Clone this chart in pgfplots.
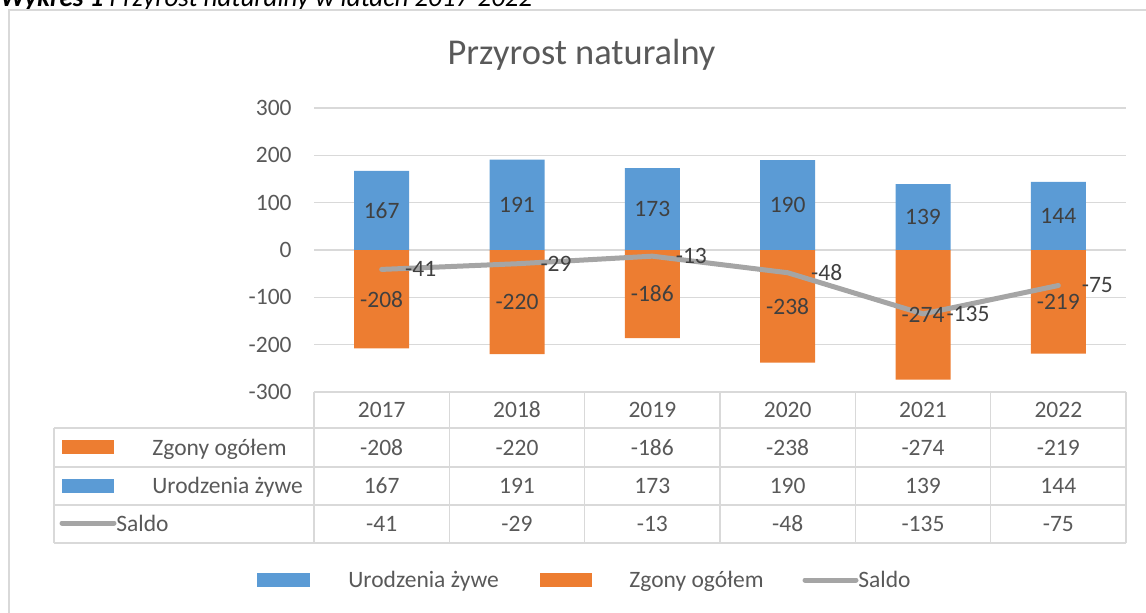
\documentclass[border=0pt]{standalone}
\usepackage{pgfplots}
\usepackage{pgfplotstable}
\pgfplotsset{compat=1.18}
\usepackage{fontspec}
\setmainfont{Carlito}
\definecolor{cblue}{HTML}{5B9BD5}
\definecolor{corange}{HTML}{ED7D31}
\definecolor{cgray}{HTML}{A5A5A5}
\definecolor{gridc}{HTML}{D9D9D9}
\definecolor{tickc}{HTML}{595959}
\definecolor{labc}{HTML}{404040}
\newcommand\sz{\fontsize{11.75}{14}\selectfont}
\pgfplotstableread{
x year u z s
0 2017 167 -208 -41
1 2018 191 -220 -29
2 2019 173 -186 -13
3 2020 190 -238 -48
4 2021 139 -274 -135
5 2022 144 -219 -75
}\data
\begin{document}
\begin{tikzpicture}
\useasboundingbox (0,0) rectangle (573pt,-306pt);
\clip (0,0) rectangle (573pt,-306pt);
\begin{scope}[x=0.5pt,y=-0.5pt]
% caption (cut at top)
\node[anchor=base west, inner sep=0pt, font=\fontsize{13.5}{16}\selectfont\itshape] at (0,6) {{\bfseries Wykres 1} Przyrost naturalny w latach 2017-2022};
% chart border
\draw[gridc, line width=0.75pt] (9,10) rectangle (1170,640);
% title
\node[anchor=base, inner sep=0pt, text=tickc, font=\fontsize{18.2}{22}\selectfont] at (581.5,64) {Przyrost naturalny};
% table grid
\foreach \k in {0,...,6} {\draw[gridc, line width=0.75pt] ({314+\k*135.333},392) -- ({314+\k*135.333},543);}
\draw[gridc, line width=0.75pt] (54,428) -- (54,543);
\foreach \yy in {428,467,505,543} {\draw[gridc, line width=0.75pt] (54,\yy) -- (1126,\yy);}
% table legend column
\fill[corange] (62,440) rectangle (114,454);
\node[anchor=base west, inner sep=0pt, text=tickc, font=\sz] at (152,455) {Zgony ogółem};
\fill[cblue] (62,479) rectangle (114,493);
\node[anchor=base west, inner sep=0pt, text=tickc, font=\sz] at (152,493.5) {Urodzenia żywe};
\draw[cgray, line width=2.5pt, line cap=round] (62,523) -- (114,523);
\node[anchor=base west, inner sep=0pt, text=tickc, font=\sz] at (116,531.5) {Saldo};
% bottom legend
\fill[cblue] (257,573) rectangle (310,587);
\node[anchor=base west, inner sep=0pt, text=tickc, font=\sz] at (348,587.5) {Urodzenia żywe};
\fill[corange] (540,573) rectangle (592,587);
\node[anchor=base west, inner sep=0pt, text=tickc, font=\sz] at (629,587.5) {Zgony ogółem};
\draw[cgray, line width=2.5pt, line cap=round] (805,580) -- (856,580);
\node[anchor=base west, inner sep=0pt, text=tickc, font=\sz] at (858,587.5) {Saldo};
\end{scope}
\begin{axis}[
  at={(157pt,-196pt)}, anchor=south west,
  width=406pt, height=142pt, scale only axis,
  xmin=-0.5, xmax=5.5, ymin=-300, ymax=300,
  ytick={-300,-200,...,300},
  yticklabels={-300,-200,-100,0,100,200,300},
  xtick=\empty,
  ymajorgrids, grid style={color=gridc, line width=0.75pt},
  axis line style={draw=none},
  major tick length=0pt,
  yticklabel style={font=\sz, text=tickc, inner sep=0pt, anchor=east, xshift=-11pt},
  clip=false,
]
\addplot[ybar, bar width=27.5pt, bar shift=0pt, fill=cblue, draw=none] table[x=x, y=u] {\data};
\addplot[ybar, bar width=27.5pt, bar shift=0pt, fill=corange, draw=none] table[x=x, y=z] {\data};
\addplot[color=cgray, line width=2.5pt, line cap=round, line join=round,
  nodes near coords={\pgfplotspointmeta}, point meta=explicit symbolic,
  every node near coord/.append style={anchor=west, xshift=10.5pt, inner sep=0pt, text=labc, font=\sz}]
  table[x=x, y=s, meta=s] {\data};
% bar labels
\addplot[draw=none, nodes near coords={\pgfplotspointmeta}, point meta=explicit symbolic,
  every node near coord/.append style={anchor=center, inner sep=0pt, text=labc, font=\sz}]
  table[x=x, y expr=\thisrow{u}/2, meta=u] {\data};
\addplot[draw=none, nodes near coords={\pgfplotspointmeta}, point meta=explicit symbolic,
  every node near coord/.append style={anchor=center, inner sep=0pt, text=labc, font=\sz}]
  table[x=x, y expr=\thisrow{z}/2, meta=z] {\data};
% data table rows
\addplot[draw=none, nodes near coords={\pgfplotspointmeta}, point meta=explicit symbolic,
  every node near coord/.append style={anchor=center, inner sep=0pt, text=tickc, font=\sz}]
  table[x=x, y expr=-338, meta=year] {\data};
\addplot[draw=none, nodes near coords={\pgfplotspointmeta}, point meta=explicit symbolic,
  every node near coord/.append style={anchor=center, inner sep=0pt, text=tickc, font=\sz}]
  table[x=x, y expr=-417.3, meta=z] {\data};
\addplot[draw=none, nodes near coords={\pgfplotspointmeta}, point meta=explicit symbolic,
  every node near coord/.append style={anchor=center, inner sep=0pt, text=tickc, font=\sz}]
  table[x=x, y expr=-498.6, meta=u] {\data};
\addplot[draw=none, nodes near coords={\pgfplotspointmeta}, point meta=explicit symbolic,
  every node near coord/.append style={anchor=center, inner sep=0pt, text=tickc, font=\sz}]
  table[x=x, y expr=-578.9, meta=s] {\data};
\end{axis}
\end{tikzpicture}
\end{document}
